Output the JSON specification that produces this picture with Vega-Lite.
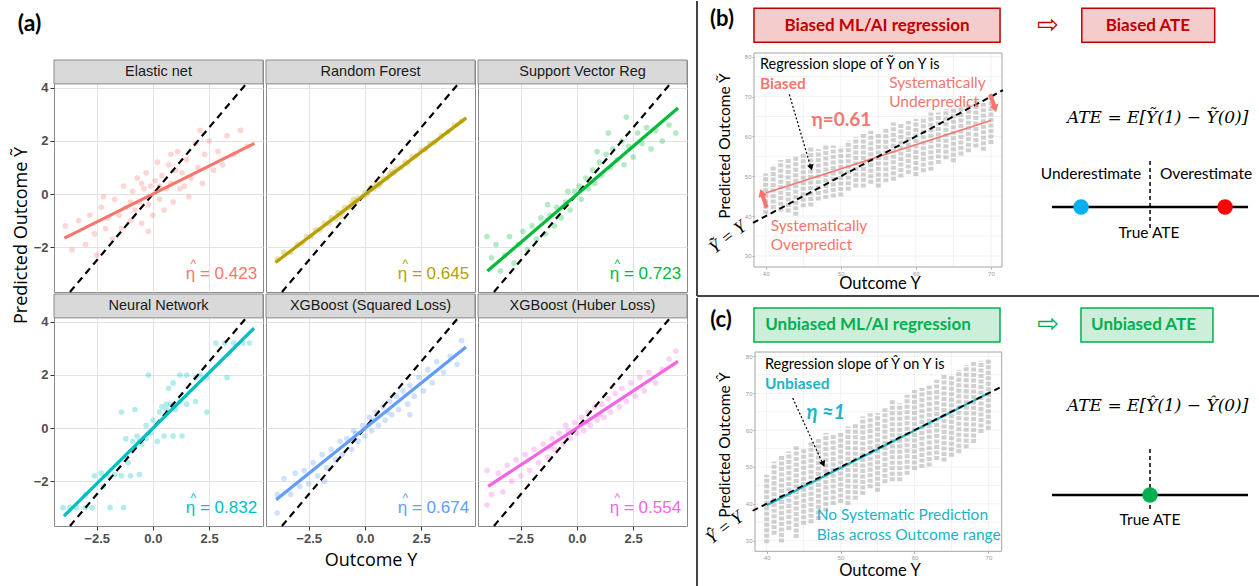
{
"$schema": "https://vega.github.io/schema/vega-lite/v6.json",
"background": "white",
"padding": {"left": 11, "top": 0, "right": 0, "bottom": 0},
"spacing": 8,
"config": {"view": {"stroke": null}, "text": {"font": "Lato", "baseline": "middle"}},
"datasets": {
"a": [
{"p":"EN","k":"lab","name":"Elastic net","lab":"η = 0.423","x1":-3.94,"y1":-1.66,"x2":4.52,"y2":1.91},
{"p":"RF","k":"lab","name":"Random Forest","lab":"η = 0.645","x1":-3.98,"y1":-2.58,"x2":4.51,"y2":2.87},
{"p":"SV","k":"lab","name":"Support Vector Reg","lab":"η = 0.723","x1":-3.98,"y1":-2.9,"x2":4.5,"y2":3.24},
{"p":"NN","k":"lab","name":"Neural Network","lab":"η = 0.832","x1":-3.96,"y1":-3.32,"x2":4.5,"y2":3.76},
{"p":"XS","k":"lab","name":"XGBoost (Squared Loss)","lab":"η = 0.674","x1":-3.95,"y1":-2.7,"x2":4.5,"y2":3.05},
{"p":"XH","k":"lab","name":"XGBoost (Huber Loss)","lab":"η = 0.554","x1":-3.95,"y1":-2.2,"x2":4.5,"y2":2.51},
{"p":"EN","x":-3.9,"y":-1.2},{"p":"EN","x":-3.6,"y":-2.1},{"p":"EN","x":-3.3,"y":-1.0},{"p":"EN","x":-3.0,"y":-1.9},{"p":"EN","x":-2.8,"y":-0.8},{"p":"EN","x":-2.6,"y":-1.5},{"p":"EN","x":-2.5,"y":-2.3},{"p":"EN","x":-2.3,"y":-0.5},{"p":"EN","x":-2.1,"y":-1.3},{"p":"EN","x":-2.0,"y":-0.9},{"p":"EN","x":-1.8,"y":-1.7},{"p":"EN","x":-1.7,"y":-0.2},{"p":"EN","x":-1.5,"y":-0.8},{"p":"EN","x":-1.4,"y":-1.3},{"p":"EN","x":-1.3,"y":0.3},{"p":"EN","x":-1.2,"y":-0.5},{"p":"EN","x":-1.0,"y":-1.0},{"p":"EN","x":-0.9,"y":0.1},{"p":"EN","x":-0.8,"y":-0.6},{"p":"EN","x":-0.7,"y":0.6},{"p":"EN","x":-0.6,"y":-0.3},{"p":"EN","x":-0.5,"y":-1.1},{"p":"EN","x":-0.4,"y":0.2},{"p":"EN","x":-0.3,"y":0.8},{"p":"EN","x":-0.2,"y":-0.4},{"p":"EN","x":-0.1,"y":0.3},{"p":"EN","x":0.0,"y":-0.8},{"p":"EN","x":0.1,"y":0.5},{"p":"EN","x":0.2,"y":1.2},{"p":"EN","x":0.3,"y":-0.2},{"p":"EN","x":0.4,"y":0.7},{"p":"EN","x":0.5,"y":-0.6},{"p":"EN","x":0.6,"y":0.2},{"p":"EN","x":0.7,"y":1.1},{"p":"EN","x":0.8,"y":0.4},{"p":"EN","x":0.9,"y":-0.3},{"p":"EN","x":1.0,"y":0.9},{"p":"EN","x":1.1,"y":1.6},{"p":"EN","x":1.2,"y":0.2},{"p":"EN","x":1.3,"y":0.8},{"p":"EN","x":1.5,"y":1.3},{"p":"EN","x":1.6,"y":-0.1},{"p":"EN","x":1.7,"y":0.6},{"p":"EN","x":1.9,"y":1.9},{"p":"EN","x":2.0,"y":1.0},{"p":"EN","x":2.2,"y":0.4},{"p":"EN","x":2.3,"y":1.5},{"p":"EN","x":2.5,"y":2.0},{"p":"EN","x":2.7,"y":0.9},{"p":"EN","x":2.9,"y":1.6},{"p":"EN","x":3.1,"y":1.1},{"p":"EN","x":3.3,"y":2.2},{"p":"EN","x":3.6,"y":1.5},{"p":"EN","x":3.9,"y":2.4},{"p":"EN","x":4.2,"y":1.8},{"p":"EN","x":-0.5,"y":0.4},{"p":"EN","x":0.3,"y":0.3},{"p":"EN","x":-1.0,"y":-0.3},{"p":"EN","x":0.8,"y":1.5},{"p":"EN","x":-0.2,"y":-1.4},{"p":"EN","x":1.4,"y":0.3},{"p":"EN","x":-2.2,"y":-0.1},{"p":"EN","x":2.1,"y":2.4},
{"p":"RF","x":-3.9,"y":-2.45},{"p":"RF","x":-3.6,"y":-2.2},{"p":"RF","x":-3.3,"y":-2.2},{"p":"RF","x":-3.0,"y":-1.9},{"p":"RF","x":-2.8,"y":-1.85},{"p":"RF","x":-2.6,"y":-1.6},{"p":"RF","x":-2.4,"y":-1.6},{"p":"RF","x":-2.2,"y":-1.35},{"p":"RF","x":-2.0,"y":-1.35},{"p":"RF","x":-1.8,"y":-1.1},{"p":"RF","x":-1.6,"y":-1.1},{"p":"RF","x":-1.5,"y":-0.9},{"p":"RF","x":-1.3,"y":-0.95},{"p":"RF","x":-1.2,"y":-0.7},{"p":"RF","x":-1.0,"y":-0.7},{"p":"RF","x":-0.9,"y":-0.5},{"p":"RF","x":-0.7,"y":-0.5},{"p":"RF","x":-0.6,"y":-0.35},{"p":"RF","x":-0.4,"y":-0.3},{"p":"RF","x":-0.3,"y":-0.15},{"p":"RF","x":-0.1,"y":-0.1},{"p":"RF","x":0.0,"y":0.05},{"p":"RF","x":0.1,"y":0.0},{"p":"RF","x":0.3,"y":0.25},{"p":"RF","x":0.4,"y":0.2},{"p":"RF","x":0.5,"y":0.4},{"p":"RF","x":0.7,"y":0.4},{"p":"RF","x":0.8,"y":0.6},{"p":"RF","x":1.0,"y":0.6},{"p":"RF","x":1.1,"y":0.75},{"p":"RF","x":1.3,"y":0.8},{"p":"RF","x":1.4,"y":0.95},{"p":"RF","x":1.6,"y":1.0},{"p":"RF","x":1.8,"y":1.2},{"p":"RF","x":1.9,"y":1.15},{"p":"RF","x":2.1,"y":1.4},{"p":"RF","x":2.3,"y":1.45},{"p":"RF","x":2.5,"y":1.65},{"p":"RF","x":2.7,"y":1.7},{"p":"RF","x":2.9,"y":1.9},{"p":"RF","x":3.1,"y":1.95},{"p":"RF","x":3.4,"y":2.2},{"p":"RF","x":3.7,"y":2.35},{"p":"RF","x":4.0,"y":2.6},{"p":"RF","x":4.3,"y":2.75},{"p":"RF","x":-0.5,"y":-0.2},{"p":"RF","x":0.2,"y":0.2},{"p":"RF","x":0.6,"y":0.3},{"p":"RF","x":-1.1,"y":-0.85},{"p":"RF","x":1.2,"y":0.85},
{"p":"SV","x":-4.0,"y":-1.6},{"p":"SV","x":-3.8,"y":-2.4},{"p":"SV","x":-3.6,"y":-1.9},{"p":"SV","x":-3.4,"y":-2.9},{"p":"SV","x":-3.2,"y":-2.3},{"p":"SV","x":-3.0,"y":-1.6},{"p":"SV","x":-2.8,"y":-2.6},{"p":"SV","x":-2.6,"y":-1.9},{"p":"SV","x":-2.4,"y":-1.4},{"p":"SV","x":-2.2,"y":-2.1},{"p":"SV","x":-2.0,"y":-1.2},{"p":"SV","x":-1.8,"y":-1.7},{"p":"SV","x":-1.6,"y":-0.9},{"p":"SV","x":-1.4,"y":-1.5},{"p":"SV","x":-1.2,"y":-0.8},{"p":"SV","x":-1.0,"y":-1.2},{"p":"SV","x":-0.9,"y":-0.5},{"p":"SV","x":-0.7,"y":-0.9},{"p":"SV","x":-0.5,"y":-0.3},{"p":"SV","x":-0.3,"y":-0.6},{"p":"SV","x":-0.1,"y":0.1},{"p":"SV","x":0.1,"y":0.3},{"p":"SV","x":0.2,"y":-0.2},{"p":"SV","x":0.4,"y":0.6},{"p":"SV","x":0.5,"y":0.2},{"p":"SV","x":0.7,"y":0.9},{"p":"SV","x":0.8,"y":0.4},{"p":"SV","x":1.0,"y":1.2},{"p":"SV","x":1.1,"y":0.7},{"p":"SV","x":1.3,"y":1.5},{"p":"SV","x":1.5,"y":1.0},{"p":"SV","x":1.6,"y":1.7},{"p":"SV","x":1.8,"y":1.3},{"p":"SV","x":2.0,"y":2.0},{"p":"SV","x":2.1,"y":1.1},{"p":"SV","x":2.3,"y":1.8},{"p":"SV","x":2.5,"y":1.4},{"p":"SV","x":2.7,"y":2.3},{"p":"SV","x":2.9,"y":1.9},{"p":"SV","x":3.1,"y":2.5},{"p":"SV","x":3.3,"y":1.7},{"p":"SV","x":3.5,"y":2.4},{"p":"SV","x":3.8,"y":2.0},{"p":"SV","x":4.1,"y":2.6},{"p":"SV","x":4.4,"y":2.3},{"p":"SV","x":2.2,"y":2.9},{"p":"SV","x":1.4,"y":2.3},{"p":"SV","x":0.9,"y":1.6},{"p":"SV","x":-0.4,"y":0.1},{"p":"SV","x":-1.3,"y":-0.4},
{"p":"NN","x":-4.0,"y":-3.0},{"p":"NN","x":-3.7,"y":-3.0},{"p":"NN","x":-3.4,"y":-3.0},{"p":"NN","x":-3.0,"y":-3.0},{"p":"NN","x":-2.7,"y":-3.0},{"p":"NN","x":-1.9,"y":-3.0},{"p":"NN","x":-1.3,"y":-3.0},{"p":"NN","x":-3.0,"y":-2.5},{"p":"NN","x":-2.6,"y":-1.8},{"p":"NN","x":-2.3,"y":-1.7},{"p":"NN","x":-2.0,"y":-1.8},{"p":"NN","x":-1.7,"y":-1.75},{"p":"NN","x":-1.4,"y":-1.8},{"p":"NN","x":-1.0,"y":-1.8},{"p":"NN","x":-0.6,"y":-1.75},{"p":"NN","x":-2.2,"y":-2.2},{"p":"NN","x":-1.1,"y":-1.3},{"p":"NN","x":-1.2,"y":-0.4},{"p":"NN","x":-0.9,"y":-0.5},{"p":"NN","x":-0.7,"y":-0.3},{"p":"NN","x":-0.5,"y":-0.6},{"p":"NN","x":-0.3,"y":-0.4},{"p":"NN","x":-0.1,"y":-0.2},{"p":"NN","x":0.2,"y":-0.5},{"p":"NN","x":0.5,"y":-0.3},{"p":"NN","x":0.9,"y":-0.3},{"p":"NN","x":1.3,"y":-0.3},{"p":"NN","x":-0.3,"y":0.1},{"p":"NN","x":0.0,"y":0.3},{"p":"NN","x":0.3,"y":0.6},{"p":"NN","x":0.4,"y":0.8},{"p":"NN","x":0.6,"y":0.7},{"p":"NN","x":0.8,"y":0.9},{"p":"NN","x":1.0,"y":0.7},{"p":"NN","x":1.2,"y":1.0},{"p":"NN","x":1.5,"y":0.9},{"p":"NN","x":-0.8,"y":0.7},{"p":"NN","x":-1.4,"y":0.6},{"p":"NN","x":0.9,"y":1.7},{"p":"NN","x":1.2,"y":2.0},{"p":"NN","x":1.5,"y":2.0},{"p":"NN","x":1.9,"y":1.9},{"p":"NN","x":2.1,"y":2.0},{"p":"NN","x":2.4,"y":1.9},{"p":"NN","x":3.3,"y":1.9},{"p":"NN","x":0.7,"y":1.5},{"p":"NN","x":2.8,"y":3.2},{"p":"NN","x":3.2,"y":3.2},{"p":"NN","x":3.6,"y":3.2},{"p":"NN","x":4.0,"y":3.2},{"p":"NN","x":4.3,"y":3.2},{"p":"NN","x":3.4,"y":2.8},{"p":"NN","x":1.9,"y":1.0},{"p":"NN","x":2.4,"y":0.6},{"p":"NN","x":-0.2,"y":2.0},{"p":"NN","x":-0.6,"y":-0.5},{"p":"NN","x":0.6,"y":0.9},
{"p":"XS","x":-3.9,"y":-2.5},{"p":"XS","x":-3.9,"y":-3.2},{"p":"XS","x":-3.6,"y":-1.9},{"p":"XS","x":-3.3,"y":-2.5},{"p":"XS","x":-3.1,"y":-1.7},{"p":"XS","x":-2.9,"y":-2.2},{"p":"XS","x":-2.7,"y":-1.6},{"p":"XS","x":-2.5,"y":-2.1},{"p":"XS","x":-2.3,"y":-1.3},{"p":"XS","x":-2.1,"y":-1.8},{"p":"XS","x":-1.9,"y":-1.0},{"p":"XS","x":-1.7,"y":-1.5},{"p":"XS","x":-1.5,"y":-0.8},{"p":"XS","x":-1.3,"y":-1.2},{"p":"XS","x":-1.1,"y":-0.5},{"p":"XS","x":-1.0,"y":-1.0},{"p":"XS","x":-0.8,"y":-0.4},{"p":"XS","x":-0.6,"y":-0.8},{"p":"XS","x":-0.5,"y":-0.1},{"p":"XS","x":-0.3,"y":-0.5},{"p":"XS","x":-0.1,"y":0.1},{"p":"XS","x":0.0,"y":-0.3},{"p":"XS","x":0.2,"y":0.4},{"p":"XS","x":0.3,"y":-0.1},{"p":"XS","x":0.5,"y":0.6},{"p":"XS","x":0.6,"y":0.1},{"p":"XS","x":0.8,"y":0.8},{"p":"XS","x":0.9,"y":0.3},{"p":"XS","x":1.1,"y":1.0},{"p":"XS","x":1.2,"y":0.5},{"p":"XS","x":1.4,"y":1.2},{"p":"XS","x":1.5,"y":0.7},{"p":"XS","x":1.7,"y":1.4},{"p":"XS","x":1.9,"y":0.9},{"p":"XS","x":2.0,"y":1.6},{"p":"XS","x":2.2,"y":1.2},{"p":"XS","x":2.4,"y":1.9},{"p":"XS","x":2.6,"y":1.4},{"p":"XS","x":2.8,"y":2.2},{"p":"XS","x":3.0,"y":1.7},{"p":"XS","x":3.2,"y":2.5},{"p":"XS","x":3.5,"y":2.1},{"p":"XS","x":3.8,"y":2.7},{"p":"XS","x":4.1,"y":2.4},{"p":"XS","x":4.3,"y":3.3},{"p":"XS","x":2.0,"y":0.5},{"p":"XS","x":-1.8,"y":-2.0},{"p":"XS","x":-0.4,"y":-0.2},{"p":"XS","x":0.4,"y":0.3},{"p":"XS","x":1.0,"y":0.6},
{"p":"XH","x":-4.0,"y":-1.6},{"p":"XH","x":-3.8,"y":-2.5},{"p":"XH","x":-3.5,"y":-1.7},{"p":"XH","x":-3.3,"y":-2.4},{"p":"XH","x":-3.1,"y":-1.4},{"p":"XH","x":-2.9,"y":-2.0},{"p":"XH","x":-2.7,"y":-1.2},{"p":"XH","x":-2.5,"y":-1.8},{"p":"XH","x":-2.3,"y":-1.0},{"p":"XH","x":-2.1,"y":-1.6},{"p":"XH","x":-1.9,"y":-0.8},{"p":"XH","x":-1.7,"y":-1.3},{"p":"XH","x":-1.5,"y":-0.6},{"p":"XH","x":-1.3,"y":-1.1},{"p":"XH","x":-1.1,"y":-0.4},{"p":"XH","x":-1.0,"y":-0.8},{"p":"XH","x":-0.8,"y":-0.2},{"p":"XH","x":-0.6,"y":-0.6},{"p":"XH","x":-0.5,"y":0.1},{"p":"XH","x":-0.3,"y":-0.4},{"p":"XH","x":-0.1,"y":0.2},{"p":"XH","x":0.0,"y":-0.2},{"p":"XH","x":0.2,"y":0.4},{"p":"XH","x":0.3,"y":-0.1},{"p":"XH","x":0.5,"y":0.6},{"p":"XH","x":0.6,"y":0.1},{"p":"XH","x":0.8,"y":0.8},{"p":"XH","x":0.9,"y":0.3},{"p":"XH","x":1.1,"y":0.9},{"p":"XH","x":1.2,"y":0.4},{"p":"XH","x":1.4,"y":1.1},{"p":"XH","x":1.5,"y":0.6},{"p":"XH","x":1.7,"y":1.3},{"p":"XH","x":1.9,"y":0.8},{"p":"XH","x":2.0,"y":1.5},{"p":"XH","x":2.2,"y":1.0},{"p":"XH","x":2.4,"y":1.7},{"p":"XH","x":2.6,"y":1.2},{"p":"XH","x":2.8,"y":1.9},{"p":"XH","x":3.0,"y":1.4},{"p":"XH","x":3.2,"y":2.1},{"p":"XH","x":3.5,"y":1.7},{"p":"XH","x":3.8,"y":2.2},{"p":"XH","x":4.1,"y":2.6},{"p":"XH","x":4.4,"y":2.9},{"p":"XH","x":-4.0,"y":-2.9},{"p":"XH","x":-0.4,"y":-0.1},{"p":"XH","x":0.4,"y":0.2},{"p":"XH","x":-1.2,"y":-0.7},{"p":"XH","x":1.0,"y":0.5}
],
"colsB": [{"x":40,"lo":40.5,"hi":50.7},{"x":41,"lo":41.8,"hi":52.9},{"x":42,"lo":41.2,"hi":54.1},{"x":43,"lo":40.9,"hi":54.7},{"x":44,"lo":40.1,"hi":55.2},{"x":45,"lo":42.2,"hi":55.6},{"x":46,"lo":42.4,"hi":57.4},{"x":47,"lo":43.9,"hi":56.8},{"x":48,"lo":44.3,"hi":58.1},{"x":49,"lo":44.7,"hi":57.7},{"x":50,"lo":44.9,"hi":57.4},{"x":51,"lo":46.4,"hi":58.9},{"x":52,"lo":47.2,"hi":59.8},{"x":53,"lo":47.2,"hi":60.6},{"x":54,"lo":48.1,"hi":61.4},{"x":55,"lo":47.2,"hi":61.0},{"x":56,"lo":48.5,"hi":62.3},{"x":57,"lo":48.9,"hi":63.5},{"x":58,"lo":49.7,"hi":63.1},{"x":59,"lo":50.6,"hi":63.9},{"x":60,"lo":50.1,"hi":64.4},{"x":61,"lo":51.0,"hi":64.9},{"x":62,"lo":51.4,"hi":66.0},{"x":63,"lo":53.1,"hi":66.0},{"x":64,"lo":54.3,"hi":66.9},{"x":65,"lo":53.5,"hi":67.3},{"x":66,"lo":55.2,"hi":67.3},{"x":67,"lo":56.0,"hi":68.5},{"x":68,"lo":57.2,"hi":69.0},{"x":69,"lo":56.4,"hi":69.0},{"x":70,"lo":58.1,"hi":70.2}],
"colsC": [{"x":40,"lo":29.3,"hi":47.9},{"x":41,"lo":31.6,"hi":51.5},{"x":42,"lo":29.5,"hi":53.3},{"x":43,"lo":32.9,"hi":54.2},{"x":44,"lo":30.7,"hi":55.6},{"x":45,"lo":34.3,"hi":55.1},{"x":46,"lo":34.7,"hi":56.9},{"x":47,"lo":35.6,"hi":57.8},{"x":48,"lo":37.9,"hi":59.2},{"x":49,"lo":39.7,"hi":58.7},{"x":50,"lo":40.2,"hi":59.6},{"x":51,"lo":39.7,"hi":61.0},{"x":52,"lo":41.1,"hi":61.9},{"x":53,"lo":42.4,"hi":63.7},{"x":54,"lo":44.2,"hi":64.6},{"x":55,"lo":43.3,"hi":64.6},{"x":56,"lo":45.6,"hi":65.9},{"x":57,"lo":46.1,"hi":68.2},{"x":58,"lo":46.1,"hi":67.3},{"x":59,"lo":47.9,"hi":69.6},{"x":60,"lo":49.2,"hi":70.9},{"x":61,"lo":49.7,"hi":71.4},{"x":62,"lo":50.1,"hi":72.3},{"x":63,"lo":51.9,"hi":73.7},{"x":64,"lo":51.5,"hi":75.0},{"x":65,"lo":52.8,"hi":74.6},{"x":66,"lo":53.7,"hi":76.4},{"x":67,"lo":55.1,"hi":77.7},{"x":68,"lo":56.5,"hi":78.5},{"x":69,"lo":59.2,"hi":78.8},{"x":70,"lo":60.1,"hi":79.1}]
},
"hconcat": [
{
"bounds": "flush",
"align": "each",
"columns": 3,
"spacing": {"row": 2, "column": 3},
"concat": [
{"width": 209, "height": 57, "data": {"values": [{}]},
"mark": {"type": "text", "text": "(a)", "fontSize": 23, "fontWeight": "bold", "color": "black"},
"encoding": {"x": {"datum": -5.49, "scale": {"domain": [-4.4, 4.9], "nice": false, "zero": false}, "axis": null}, "y": {"datum": 0.605, "scale": {"domain": [0, 1], "nice": false, "zero": false}, "axis": null}}},
{"width": 209, "height": 57, "data": {"values": [{}]}, "mark": {"type": "text", "text": ""}, "encoding": {}},
{"width": 209, "height": 57, "data": {"values": [{}]}, "mark": {"type": "text", "text": ""}, "encoding": {}},
{"width": 209, "height": 232, "view": {"stroke": "#8a8a8a"}, "data": {"name": "a"},
"layer": [
{"transform": [{"filter": "datum.p === 'EN' && !datum.k"}], "mark": {"type": "circle", "size": 32, "opacity": 0.3, "color": "#F8766D"},
"encoding": {"x": {"field": "x", "type": "quantitative", "scale": {"domain": [-4.4, 4.9], "nice": false, "zero": false}, "axis": {"title": null, "values": [-2.5, 0, 2.5], "labels": false, "ticks": false, "domain": false, "gridColor": "#e3e3e3"}},
"y": {"field": "y", "type": "quantitative", "scale": {"domain": [-3.69, 5.05], "nice": false, "zero": false}, "axis": {"title": "Predicted Outcome Ỹ", "titleY": 175, "titleFont": "Open Sans", "titleFontSize": 18, "titleFontWeight": "normal", "titleColor": "black", "titlePadding": 3, "values": [-2, 0, 2, 4], "format": "d", "domain": false, "tickSize": 4, "tickColor": "#333333", "gridColor": "#e3e3e3", "labelFont": "Liberation Sans", "labelFontSize": 13, "labelFontWeight": "bold", "labelColor": "#4d4d4d", "labelPadding": 2}}}},
{"transform": [{"filter": "datum.p === 'EN' && datum.k"}], "mark": {"type": "rect", "fill": "#d9d9d9", "stroke": "#8a8a8a", "strokeWidth": 1}, "encoding": {"x": {"datum": -4.4}, "x2": {"datum": 4.9}, "y": {"datum": 4.15}, "y2": {"datum": 5.05}}},
{"transform": [{"filter": "datum.p === 'EN' && datum.k"}], "mark": {"type": "text", "font": "Liberation Sans", "fontSize": 14.5, "color": "#1a1a1a"}, "encoding": {"x": {"datum": 0.25}, "y": {"datum": 4.6}, "text": {"field": "name"}}},
{"transform": [{"filter": "datum.p === 'EN' && datum.k"}], "mark": {"type": "rule", "color": "black", "strokeWidth": 2.2, "strokeDash": [7, 5]}, "encoding": {"x": {"datum": -3.69}, "y": {"datum": -3.69}, "x2": {"datum": 4.15}, "y2": {"datum": 4.15}}},
{"transform": [{"filter": "datum.p === 'EN' && datum.k"}], "mark": {"type": "rule", "strokeWidth": 3.2, "color": "#F8766D"}, "encoding": {"x": {"field": "x1", "type": "quantitative"}, "y": {"field": "y1", "type": "quantitative"}, "x2": {"field": "x2"}, "y2": {"field": "y2"}}},
{"transform": [{"filter": "datum.p === 'EN' && datum.k"}], "mark": {"type": "text", "font": "Liberation Sans", "fontSize": 17, "align": "right", "color": "#F8766D"}, "encoding": {"x": {"datum": 4.64}, "y": {"datum": -3.0}, "text": {"field": "lab"}}},
{"transform": [{"filter": "datum.p === 'EN' && datum.k"}], "mark": {"type": "text", "text": "^", "font": "Liberation Sans", "fontSize": 12, "color": "#F8766D"}, "encoding": {"x": {"datum": 1.8}, "y": {"datum": -2.62}}}
]},
{"width": 209, "height": 232, "view": {"stroke": "#8a8a8a"}, "data": {"name": "a"},
"layer": [
{"transform": [{"filter": "datum.p === 'RF' && !datum.k"}], "mark": {"type": "circle", "size": 32, "opacity": 0.3, "color": "#B79F00"},
"encoding": {"x": {"field": "x", "type": "quantitative", "scale": {"domain": [-4.4, 4.9], "nice": false, "zero": false}, "axis": {"title": null, "values": [-2.5, 0, 2.5], "labels": false, "ticks": false, "domain": false, "gridColor": "#e3e3e3"}},
"y": {"field": "y", "type": "quantitative", "scale": {"domain": [-3.69, 5.05], "nice": false, "zero": false}, "axis": {"title": null, "values": [-2, 0, 2, 4], "labels": false, "ticks": false, "domain": false, "gridColor": "#e3e3e3"}}}},
{"transform": [{"filter": "datum.p === 'RF' && datum.k"}], "mark": {"type": "rect", "fill": "#d9d9d9", "stroke": "#8a8a8a", "strokeWidth": 1}, "encoding": {"x": {"datum": -4.4}, "x2": {"datum": 4.9}, "y": {"datum": 4.15}, "y2": {"datum": 5.05}}},
{"transform": [{"filter": "datum.p === 'RF' && datum.k"}], "mark": {"type": "text", "font": "Liberation Sans", "fontSize": 14.5, "color": "#1a1a1a"}, "encoding": {"x": {"datum": 0.25}, "y": {"datum": 4.6}, "text": {"field": "name"}}},
{"transform": [{"filter": "datum.p === 'RF' && datum.k"}], "mark": {"type": "rule", "color": "black", "strokeWidth": 2.2, "strokeDash": [7, 5]}, "encoding": {"x": {"datum": -3.69}, "y": {"datum": -3.69}, "x2": {"datum": 4.15}, "y2": {"datum": 4.15}}},
{"transform": [{"filter": "datum.p === 'RF' && datum.k"}], "mark": {"type": "rule", "strokeWidth": 3.2, "color": "#B79F00"}, "encoding": {"x": {"field": "x1", "type": "quantitative"}, "y": {"field": "y1", "type": "quantitative"}, "x2": {"field": "x2"}, "y2": {"field": "y2"}}},
{"transform": [{"filter": "datum.p === 'RF' && datum.k"}], "mark": {"type": "text", "font": "Liberation Sans", "fontSize": 17, "align": "right", "color": "#B79F00"}, "encoding": {"x": {"datum": 4.64}, "y": {"datum": -3.0}, "text": {"field": "lab"}}},
{"transform": [{"filter": "datum.p === 'RF' && datum.k"}], "mark": {"type": "text", "text": "^", "font": "Liberation Sans", "fontSize": 12, "color": "#B79F00"}, "encoding": {"x": {"datum": 1.8}, "y": {"datum": -2.62}}}
]},
{"width": 209, "height": 232, "view": {"stroke": "#8a8a8a"}, "data": {"name": "a"},
"layer": [
{"transform": [{"filter": "datum.p === 'SV' && !datum.k"}], "mark": {"type": "circle", "size": 32, "opacity": 0.3, "color": "#00BA38"},
"encoding": {"x": {"field": "x", "type": "quantitative", "scale": {"domain": [-4.4, 4.9], "nice": false, "zero": false}, "axis": {"title": null, "values": [-2.5, 0, 2.5], "labels": false, "ticks": false, "domain": false, "gridColor": "#e3e3e3"}},
"y": {"field": "y", "type": "quantitative", "scale": {"domain": [-3.69, 5.05], "nice": false, "zero": false}, "axis": {"title": null, "values": [-2, 0, 2, 4], "labels": false, "ticks": false, "domain": false, "gridColor": "#e3e3e3"}}}},
{"transform": [{"filter": "datum.p === 'SV' && datum.k"}], "mark": {"type": "rect", "fill": "#d9d9d9", "stroke": "#8a8a8a", "strokeWidth": 1}, "encoding": {"x": {"datum": -4.4}, "x2": {"datum": 4.9}, "y": {"datum": 4.15}, "y2": {"datum": 5.05}}},
{"transform": [{"filter": "datum.p === 'SV' && datum.k"}], "mark": {"type": "text", "font": "Liberation Sans", "fontSize": 14.5, "color": "#1a1a1a"}, "encoding": {"x": {"datum": 0.25}, "y": {"datum": 4.6}, "text": {"field": "name"}}},
{"transform": [{"filter": "datum.p === 'SV' && datum.k"}], "mark": {"type": "rule", "color": "black", "strokeWidth": 2.2, "strokeDash": [7, 5]}, "encoding": {"x": {"datum": -3.69}, "y": {"datum": -3.69}, "x2": {"datum": 4.15}, "y2": {"datum": 4.15}}},
{"transform": [{"filter": "datum.p === 'SV' && datum.k"}], "mark": {"type": "rule", "strokeWidth": 3.2, "color": "#00BA38"}, "encoding": {"x": {"field": "x1", "type": "quantitative"}, "y": {"field": "y1", "type": "quantitative"}, "x2": {"field": "x2"}, "y2": {"field": "y2"}}},
{"transform": [{"filter": "datum.p === 'SV' && datum.k"}], "mark": {"type": "text", "font": "Liberation Sans", "fontSize": 17, "align": "right", "color": "#00BA38"}, "encoding": {"x": {"datum": 4.64}, "y": {"datum": -3.0}, "text": {"field": "lab"}}},
{"transform": [{"filter": "datum.p === 'SV' && datum.k"}], "mark": {"type": "text", "text": "^", "font": "Liberation Sans", "fontSize": 12, "color": "#00BA38"}, "encoding": {"x": {"datum": 1.8}, "y": {"datum": -2.62}}}
]},
{"width": 209, "height": 232, "view": {"stroke": "#8a8a8a"}, "data": {"name": "a"},
"layer": [
{"transform": [{"filter": "datum.p === 'NN' && !datum.k"}], "mark": {"type": "circle", "size": 32, "opacity": 0.3, "color": "#00BFC4"},
"encoding": {"x": {"field": "x", "type": "quantitative", "scale": {"domain": [-4.4, 4.9], "nice": false, "zero": false}, "axis": {"title": null, "values": [-2.5, 0, 2.5], "format": ".1f", "domain": false, "tickSize": 4, "tickColor": "#333333", "gridColor": "#e3e3e3", "labelFont": "Liberation Sans", "labelFontSize": 13, "labelFontWeight": "bold", "labelColor": "#4d4d4d", "labelPadding": 2}},
"y": {"field": "y", "type": "quantitative", "scale": {"domain": [-3.69, 5.05], "nice": false, "zero": false}, "axis": {"title": null, "values": [-2, 0, 2, 4], "format": "d", "domain": false, "tickSize": 4, "tickColor": "#333333", "gridColor": "#e3e3e3", "labelFont": "Liberation Sans", "labelFontSize": 13, "labelFontWeight": "bold", "labelColor": "#4d4d4d", "labelPadding": 2}}}},
{"transform": [{"filter": "datum.p === 'NN' && datum.k"}], "mark": {"type": "rect", "fill": "#d9d9d9", "stroke": "#8a8a8a", "strokeWidth": 1}, "encoding": {"x": {"datum": -4.4}, "x2": {"datum": 4.9}, "y": {"datum": 4.15}, "y2": {"datum": 5.05}}},
{"transform": [{"filter": "datum.p === 'NN' && datum.k"}], "mark": {"type": "text", "font": "Liberation Sans", "fontSize": 14.5, "color": "#1a1a1a"}, "encoding": {"x": {"datum": 0.25}, "y": {"datum": 4.6}, "text": {"field": "name"}}},
{"transform": [{"filter": "datum.p === 'NN' && datum.k"}], "mark": {"type": "rule", "color": "black", "strokeWidth": 2.2, "strokeDash": [7, 5]}, "encoding": {"x": {"datum": -3.69}, "y": {"datum": -3.69}, "x2": {"datum": 4.15}, "y2": {"datum": 4.15}}},
{"transform": [{"filter": "datum.p === 'NN' && datum.k"}], "mark": {"type": "rule", "strokeWidth": 3.2, "color": "#00BFC4"}, "encoding": {"x": {"field": "x1", "type": "quantitative"}, "y": {"field": "y1", "type": "quantitative"}, "x2": {"field": "x2"}, "y2": {"field": "y2"}}},
{"transform": [{"filter": "datum.p === 'NN' && datum.k"}], "mark": {"type": "text", "font": "Liberation Sans", "fontSize": 17, "align": "right", "color": "#00BFC4"}, "encoding": {"x": {"datum": 4.64}, "y": {"datum": -3.0}, "text": {"field": "lab"}}},
{"transform": [{"filter": "datum.p === 'NN' && datum.k"}], "mark": {"type": "text", "text": "^", "font": "Liberation Sans", "fontSize": 12, "color": "#00BFC4"}, "encoding": {"x": {"datum": 1.8}, "y": {"datum": -2.62}}}
]},
{"width": 209, "height": 232, "view": {"stroke": "#8a8a8a"}, "data": {"name": "a"},
"layer": [
{"transform": [{"filter": "datum.p === 'XS' && !datum.k"}], "mark": {"type": "circle", "size": 32, "opacity": 0.3, "color": "#619CFF"},
"encoding": {"x": {"field": "x", "type": "quantitative", "scale": {"domain": [-4.4, 4.9], "nice": false, "zero": false}, "axis": {"title": "Outcome Y", "titleFont": "Open Sans", "titleFontSize": 18, "titleFontWeight": "normal", "titleColor": "black", "titlePadding": 6, "values": [-2.5, 0, 2.5], "format": ".1f", "domain": false, "tickSize": 4, "tickColor": "#333333", "gridColor": "#e3e3e3", "labelFont": "Liberation Sans", "labelFontSize": 13, "labelFontWeight": "bold", "labelColor": "#4d4d4d", "labelPadding": 2}},
"y": {"field": "y", "type": "quantitative", "scale": {"domain": [-3.69, 5.05], "nice": false, "zero": false}, "axis": {"title": null, "values": [-2, 0, 2, 4], "labels": false, "ticks": false, "domain": false, "gridColor": "#e3e3e3"}}}},
{"transform": [{"filter": "datum.p === 'XS' && datum.k"}], "mark": {"type": "rect", "fill": "#d9d9d9", "stroke": "#8a8a8a", "strokeWidth": 1}, "encoding": {"x": {"datum": -4.4}, "x2": {"datum": 4.9}, "y": {"datum": 4.15}, "y2": {"datum": 5.05}}},
{"transform": [{"filter": "datum.p === 'XS' && datum.k"}], "mark": {"type": "text", "font": "Liberation Sans", "fontSize": 14.5, "color": "#1a1a1a"}, "encoding": {"x": {"datum": 0.25}, "y": {"datum": 4.6}, "text": {"field": "name"}}},
{"transform": [{"filter": "datum.p === 'XS' && datum.k"}], "mark": {"type": "rule", "color": "black", "strokeWidth": 2.2, "strokeDash": [7, 5]}, "encoding": {"x": {"datum": -3.69}, "y": {"datum": -3.69}, "x2": {"datum": 4.15}, "y2": {"datum": 4.15}}},
{"transform": [{"filter": "datum.p === 'XS' && datum.k"}], "mark": {"type": "rule", "strokeWidth": 3.2, "color": "#619CFF"}, "encoding": {"x": {"field": "x1", "type": "quantitative"}, "y": {"field": "y1", "type": "quantitative"}, "x2": {"field": "x2"}, "y2": {"field": "y2"}}},
{"transform": [{"filter": "datum.p === 'XS' && datum.k"}], "mark": {"type": "text", "font": "Liberation Sans", "fontSize": 17, "align": "right", "color": "#619CFF"}, "encoding": {"x": {"datum": 4.64}, "y": {"datum": -3.0}, "text": {"field": "lab"}}},
{"transform": [{"filter": "datum.p === 'XS' && datum.k"}], "mark": {"type": "text", "text": "^", "font": "Liberation Sans", "fontSize": 12, "color": "#619CFF"}, "encoding": {"x": {"datum": 1.8}, "y": {"datum": -2.62}}}
]},
{"width": 209, "height": 232, "view": {"stroke": "#8a8a8a"}, "data": {"name": "a"},
"layer": [
{"transform": [{"filter": "datum.p === 'XH' && !datum.k"}], "mark": {"type": "circle", "size": 32, "opacity": 0.3, "color": "#F564E3"},
"encoding": {"x": {"field": "x", "type": "quantitative", "scale": {"domain": [-4.4, 4.9], "nice": false, "zero": false}, "axis": {"title": null, "values": [-2.5, 0, 2.5], "format": ".1f", "domain": false, "tickSize": 4, "tickColor": "#333333", "gridColor": "#e3e3e3", "labelFont": "Liberation Sans", "labelFontSize": 13, "labelFontWeight": "bold", "labelColor": "#4d4d4d", "labelPadding": 2}},
"y": {"field": "y", "type": "quantitative", "scale": {"domain": [-3.69, 5.05], "nice": false, "zero": false}, "axis": {"title": null, "values": [-2, 0, 2, 4], "labels": false, "ticks": false, "domain": false, "gridColor": "#e3e3e3"}}}},
{"transform": [{"filter": "datum.p === 'XH' && datum.k"}], "mark": {"type": "rect", "fill": "#d9d9d9", "stroke": "#8a8a8a", "strokeWidth": 1}, "encoding": {"x": {"datum": -4.4}, "x2": {"datum": 4.9}, "y": {"datum": 4.15}, "y2": {"datum": 5.05}}},
{"transform": [{"filter": "datum.p === 'XH' && datum.k"}], "mark": {"type": "text", "font": "Liberation Sans", "fontSize": 14.5, "color": "#1a1a1a"}, "encoding": {"x": {"datum": 0.25}, "y": {"datum": 4.6}, "text": {"field": "name"}}},
{"transform": [{"filter": "datum.p === 'XH' && datum.k"}], "mark": {"type": "rule", "color": "black", "strokeWidth": 2.2, "strokeDash": [7, 5]}, "encoding": {"x": {"datum": -3.69}, "y": {"datum": -3.69}, "x2": {"datum": 4.15}, "y2": {"datum": 4.15}}},
{"transform": [{"filter": "datum.p === 'XH' && datum.k"}], "mark": {"type": "rule", "strokeWidth": 3.2, "color": "#F564E3"}, "encoding": {"x": {"field": "x1", "type": "quantitative"}, "y": {"field": "y1", "type": "quantitative"}, "x2": {"field": "x2"}, "y2": {"field": "y2"}}},
{"transform": [{"filter": "datum.p === 'XH' && datum.k"}], "mark": {"type": "text", "font": "Liberation Sans", "fontSize": 17, "align": "right", "color": "#F564E3"}, "encoding": {"x": {"datum": 4.64}, "y": {"datum": -3.0}, "text": {"field": "lab"}}},
{"transform": [{"filter": "datum.p === 'XH' && datum.k"}], "mark": {"type": "text", "text": "^", "font": "Liberation Sans", "fontSize": 12, "color": "#F564E3"}, "encoding": {"x": {"datum": 1.8}, "y": {"datum": -2.62}}}
]}
]
},
{
"spacing": 0,
"vconcat": [
{
"width": 562, "height": 295,
"view": {"stroke": null},
"data": {"values": [{}]},
"layer": [
{"data": {"values": [{"v": 40}, {"v": 45}, {"v": 50}, {"v": 55}, {"v": 60}, {"v": 65}, {"v": 70}]},
"mark": {"type": "rule", "color": "#efefef", "strokeWidth": 0.8},
"encoding": {
"x": {"field": "v", "type": "quantitative", "scale": {"domain": [30.85, 105.7], "nice": false, "zero": false}, "axis": {"title": null, "values": [40, 50, 60, 70], "orient": "bottom", "offset": -29, "domain": false, "grid": false, "tickSize": 2, "tickColor": "#aaa", "labelFontSize": 6, "labelColor": "#999", "labelPadding": 1}},
"y": {"datum": 27.24, "scale": {"domain": [19.96, 93.98], "nice": false, "zero": false}, "axis": {"title": null, "values": [30, 40, 50, 60, 70, 80], "orient": "left", "offset": -57, "domain": false, "grid": false, "tickSize": 2, "tickColor": "#aaa", "labelFontSize": 6, "labelColor": "#999", "labelPadding": 1}},
"y2": {"datum": 80.93}}},
{"data": {"values": [{"v": 30}, {"v": 35}, {"v": 40}, {"v": 45}, {"v": 50}, {"v": 55}, {"v": 60}, {"v": 65}, {"v": 70}, {"v": 75}, {"v": 80}]},
"mark": {"type": "rule", "color": "#efefef", "strokeWidth": 0.8},
"encoding": {"y": {"field": "v", "type": "quantitative"}, "x": {"datum": 38.44}, "x2": {"datum": 71.47}}},
{"data": {"name": "colsB"},
"mark": {"type": "rule", "color": "#b0b0b0", "strokeWidth": 5, "opacity": 0.6, "strokeDash": [4, 1.5]},
"encoding": {"x": {"field": "x", "type": "quantitative"}, "y": {"field": "lo", "type": "quantitative"}, "y2": {"field": "hi"}}},
{"mark": {"type": "rect", "fill": "white", "fillOpacity": 0, "stroke": "#a6a6a6", "strokeWidth": 1},
"encoding": {"x": {"datum": 38.44}, "x2": {"datum": 71.47}, "y": {"datum": 27.24}, "y2": {"datum": 80.93}}},
{"mark": {"type": "rule", "color": "#f4766e", "strokeWidth": 1.8},
"encoding": {"x": {"datum": 40}, "y": {"datum": 45.8}, "x2": {"datum": 70}, "y2": {"datum": 64.0}}},
{"mark": {"type": "rule", "color": "black", "strokeWidth": 2, "strokeDash": [6, 4]},
"encoding": {"x": {"datum": 38.3}, "y": {"datum": 38.3}, "x2": {"datum": 71.6}, "y2": {"datum": 71.6}}},
{"mark": {"type": "rule", "color": "black", "strokeWidth": 1.2, "strokeDash": [2, 2]},
"encoding": {"x": {"datum": 43.15}, "y": {"datum": 70.55}, "x2": {"datum": 45.95}, "y2": {"datum": 52.6}}},
{"mark": {"type": "point", "shape": "triangle-down", "filled": true, "size": 45, "angle": 344, "color": "black", "opacity": 1},
"encoding": {"x": {"datum": 46.05}, "y": {"datum": 52.2}}},
{"mark": {"type": "rule", "color": "#f4766e", "strokeWidth": 4},
"encoding": {"x": {"datum": 40.13}, "y": {"datum": 42.12}, "x2": {"datum": 39.55}, "y2": {"datum": 45.3}}},
{"mark": {"type": "point", "shape": "triangle-up", "filled": true, "size": 80, "angle": 342, "color": "#f4766e", "opacity": 1},
"encoding": {"x": {"datum": 39.45}, "y": {"datum": 45.9}}},
{"mark": {"type": "rule", "color": "#f4766e", "strokeWidth": 4},
"encoding": {"x": {"datum": 69.88}, "y": {"datum": 70.57}, "x2": {"datum": 70.45}, "y2": {"datum": 67.6}}},
{"mark": {"type": "point", "shape": "triangle-down", "filled": true, "size": 80, "angle": 345, "color": "#f4766e", "opacity": 1},
"encoding": {"x": {"datum": 70.55}, "y": {"datum": 67.0}}},
{"mark": {"type": "text", "text": "Regression slope of Ỹ on Y is", "fontSize": 14.5, "align": "left", "color": "black"},
"encoding": {"x": {"datum": 39.24}, "y": {"datum": 77.9}}},
{"mark": {"type": "text", "text": "Biased", "fontSize": 15.5, "fontWeight": "bold", "align": "left", "color": "#f4766e"},
"encoding": {"x": {"datum": 39.24}, "y": {"datum": 73.07}}},
{"mark": {"type": "text", "text": "Systematically", "fontSize": 15.5, "align": "left", "color": "#f4766e"},
"encoding": {"x": {"datum": 56.44}, "y": {"datum": 73.47}}},
{"mark": {"type": "text", "text": "Underpredict", "fontSize": 15.5, "align": "left", "color": "#f4766e"},
"encoding": {"x": {"datum": 56.44}, "y": {"datum": 68.6}}},
{"mark": {"type": "text", "text": "η=0.61", "fontSize": 19, "fontWeight": "bold", "align": "left", "color": "#f4766e"},
"encoding": {"x": {"datum": 46.1}, "y": {"datum": 64.1}}},
{"mark": {"type": "text", "text": "Systematically", "fontSize": 15.5, "align": "left", "color": "#f4766e"},
"encoding": {"x": {"datum": 40.67}, "y": {"datum": 37.46}}},
{"mark": {"type": "text", "text": "Overpredict", "fontSize": 15.5, "align": "left", "color": "#f4766e"},
"encoding": {"x": {"datum": 40.67}, "y": {"datum": 32.69}}},
{"mark": {"type": "text", "text": "Ỹ = Y", "font": "Liberation Serif", "fontStyle": "italic", "fontSize": 18, "angle": 322, "color": "black"},
"encoding": {"x": {"datum": 34.98}, "y": {"datum": 34.6}}},
{"mark": {"type": "text", "text": "Predicted Outcome Ỹ", "fontSize": 15.5, "angle": 270, "color": "black"},
"encoding": {"x": {"datum": 34.58}, "y": {"datum": 57.6}}},
{"mark": {"type": "text", "text": "Outcome Y", "fontSize": 16.5, "color": "black"},
"encoding": {"x": {"datum": 55.22}, "y": {"datum": 22.98}}},
{"mark": {"type": "text", "text": "(b)", "fontSize": 22, "fontWeight": "bold", "color": "black"},
"encoding": {"x": {"datum": 34.18}, "y": {"datum": 89.39}}},
{"mark": {"type": "rect", "fill": "#f4cccc", "stroke": "#c00000", "strokeWidth": 1.5},
"encoding": {"x": {"datum": 38.44}, "x2": {"datum": 71.21}, "y": {"datum": 92.15}, "y2": {"datum": 83.62}}},
{"mark": {"type": "text", "text": "Biased ML/AI regression", "fontSize": 17, "fontWeight": "bold", "color": "#c00000"},
"encoding": {"x": {"datum": 54.83}, "y": {"datum": 87.83}}},
{"mark": {"type": "text", "text": "⇨", "font": "DejaVu Sans", "fontSize": 26, "color": "#c00000"},
"encoding": {"x": {"datum": 77.6}, "y": {"datum": 87.96}}},
{"mark": {"type": "rect", "fill": "#f4cccc", "stroke": "#c00000", "strokeWidth": 1.5},
"encoding": {"x": {"datum": 82.1}, "x2": {"datum": 99.8}, "y": {"datum": 92.15}, "y2": {"datum": 83.62}}},
{"mark": {"type": "text", "text": "Biased ATE", "fontSize": 17, "fontWeight": "bold", "color": "#c00000"},
"encoding": {"x": {"datum": 90.9}, "y": {"datum": 87.83}}},
{"mark": {"type": "text", "text": "ATE = E[Ỹ(1) − Ỹ(0)]", "font": "DejaVu Serif", "fontStyle": "italic", "fontSize": 17, "color": "black"},
"encoding": {"x": {"datum": 92.2}, "y": {"datum": 64.7}}},
{"mark": {"type": "rule", "color": "black", "strokeWidth": 2.5},
"encoding": {"x": {"datum": 78.13}, "x2": {"datum": 104.24}, "y": {"datum": 42.3}}},
{"mark": {"type": "rule", "color": "black", "strokeWidth": 1.5, "strokeDash": [4, 3]},
"encoding": {"x": {"datum": 91.19}, "y": {"datum": 37.03}, "y2": {"datum": 54.34}}},
{"mark": {"type": "circle", "size": 240, "color": "#00b0f0", "opacity": 1},
"encoding": {"x": {"datum": 82.0}, "y": {"datum": 42.3}}},
{"mark": {"type": "circle", "size": 240, "color": "#ff0000", "opacity": 1},
"encoding": {"x": {"datum": 101.18}, "y": {"datum": 42.3}}},
{"mark": {"type": "text", "text": "Underestimate", "fontSize": 15.5, "color": "black"},
"encoding": {"x": {"datum": 83.33}, "y": {"datum": 50.65}}},
{"mark": {"type": "text", "text": "Overestimate", "fontSize": 15.5, "color": "black"},
"encoding": {"x": {"datum": 98.65}, "y": {"datum": 50.65}}},
{"mark": {"type": "text", "text": "True ATE", "fontSize": 15.5, "color": "black"},
"encoding": {"x": {"datum": 91.05}, "y": {"datum": 35.85}}},
{"mark": {"type": "rule", "color": "#444", "strokeWidth": 2},
"encoding": {"x": {"datum": 30.85}, "y": {"datum": 19.96}, "y2": {"datum": 93.98}}},
{"mark": {"type": "rule", "color": "#444", "strokeWidth": 2},
"encoding": {"x": {"datum": 30.85}, "x2": {"datum": 105.7}, "y": {"datum": 19.96}}}
]
},
{
"width": 562, "height": 291,
"view": {"stroke": null},
"data": {"values": [{}]},
"layer": [
{"data": {"values": [{"v": 40}, {"v": 45}, {"v": 50}, {"v": 55}, {"v": 60}, {"v": 65}, {"v": 70}]},
"mark": {"type": "rule", "color": "#efefef", "strokeWidth": 0.8},
"encoding": {
"x": {"field": "v", "type": "quantitative", "scale": {"domain": [30.57, 106.62], "nice": false, "zero": false}, "axis": {"title": null, "values": [40, 50, 60, 70], "orient": "bottom", "offset": -37.7, "domain": false, "grid": false, "tickSize": 2, "tickColor": "#aaa", "labelFontSize": 6, "labelColor": "#999", "labelPadding": 1}},
"y": {"datum": 27.1, "scale": {"domain": [16.87, 95.86], "nice": false, "zero": false}, "axis": {"title": null, "values": [30, 40, 50, 60, 70, 80], "orient": "left", "offset": -58, "domain": false, "grid": false, "tickSize": 2, "tickColor": "#aaa", "labelFontSize": 6, "labelColor": "#999", "labelPadding": 1}},
"y2": {"datum": 81.2}}},
{"data": {"values": [{"v": 30}, {"v": 35}, {"v": 40}, {"v": 45}, {"v": 50}, {"v": 55}, {"v": 60}, {"v": 65}, {"v": 70}, {"v": 75}, {"v": 80}]},
"mark": {"type": "rule", "color": "#efefef", "strokeWidth": 0.8},
"encoding": {"y": {"field": "v", "type": "quantitative"}, "x": {"datum": 38.42}, "x2": {"datum": 71.8}}},
{"data": {"name": "colsC"},
"mark": {"type": "rule", "color": "#b0b0b0", "strokeWidth": 5, "opacity": 0.6, "strokeDash": [4, 1.5]},
"encoding": {"x": {"field": "x", "type": "quantitative"}, "y": {"field": "lo", "type": "quantitative"}, "y2": {"field": "hi"}}},
{"mark": {"type": "rect", "fill": "white", "fillOpacity": 0, "stroke": "#a6a6a6", "strokeWidth": 1},
"encoding": {"x": {"datum": 38.42}, "x2": {"datum": 71.8}, "y": {"datum": 27.1}, "y2": {"datum": 81.2}}},
{"mark": {"type": "rule", "color": "#1bb4c4", "strokeWidth": 2.2},
"encoding": {"x": {"datum": 40}, "y": {"datum": 39.6}, "x2": {"datum": 70.2}, "y2": {"datum": 70.2}}},
{"mark": {"type": "rule", "color": "black", "strokeWidth": 1.8, "strokeDash": [6, 4]},
"encoding": {"x": {"datum": 38.1}, "y": {"datum": 38.1}, "x2": {"datum": 71.9}, "y2": {"datum": 71.9}}},
{"mark": {"type": "rule", "color": "black", "strokeWidth": 1.2, "strokeDash": [2, 2]},
"encoding": {"x": {"datum": 43.52}, "y": {"datum": 68.7}, "x2": {"datum": 47.5}, "y2": {"datum": 51.3}}},
{"mark": {"type": "point", "shape": "triangle-down", "filled": true, "size": 45, "angle": 335, "color": "black", "opacity": 1},
"encoding": {"x": {"datum": 47.65}, "y": {"datum": 50.8}}},
{"mark": {"type": "text", "text": "Regression slope of Ŷ on Y is", "fontSize": 14.5, "align": "left", "color": "black"},
"encoding": {"x": {"datum": 39.77}, "y": {"datum": 77.76}}},
{"mark": {"type": "text", "text": "Unbiased", "fontSize": 15.5, "fontWeight": "bold", "align": "left", "color": "#1bb4c4"},
"encoding": {"x": {"datum": 39.77}, "y": {"datum": 72.6}}},
{"mark": {"type": "text", "text": "η ≈1", "fontSize": 20, "fontWeight": "bold", "fontStyle": "italic", "align": "left", "color": "#1bb4c4"},
"encoding": {"x": {"datum": 45.4}, "y": {"datum": 64.65}}},
{"mark": {"type": "text", "text": "No Systematic Prediction", "fontSize": 15.5, "align": "left", "color": "#1bb4c4"},
"encoding": {"x": {"datum": 46.77}, "y": {"datum": 37.07}}},
{"mark": {"type": "text", "text": "Bias across Outcome range", "fontSize": 15.5, "align": "left", "color": "#1bb4c4"},
"encoding": {"x": {"datum": 46.77}, "y": {"datum": 31.65}}},
{"mark": {"type": "text", "text": "Ŷ = Y", "font": "Liberation Serif", "fontStyle": "italic", "fontSize": 18, "angle": 322, "color": "black"},
"encoding": {"x": {"datum": 34.36}, "y": {"datum": 33.43}}},
{"mark": {"type": "text", "text": "Predicted Outcome Ŷ", "fontSize": 15.5, "angle": 270, "color": "black"},
"encoding": {"x": {"datum": 34.36}, "y": {"datum": 55.96}}},
{"mark": {"type": "text", "text": "Outcome Y", "fontSize": 16.5, "color": "black"},
"encoding": {"x": {"datum": 55.33}, "y": {"datum": 21.76}}},
{"mark": {"type": "text", "text": "(c)", "fontSize": 22, "fontWeight": "bold", "color": "black"},
"encoding": {"x": {"datum": 33.82}, "y": {"datum": 89.97}}},
{"mark": {"type": "rect", "fill": "#cdeed9", "stroke": "#00b050", "strokeWidth": 1.5},
"encoding": {"x": {"datum": 38.28}, "x2": {"datum": 71.57}, "y": {"datum": 93.15}, "y2": {"datum": 83.92}}},
{"mark": {"type": "text", "text": "Unbiased ML/AI regression", "fontSize": 17, "fontWeight": "bold", "color": "#00b050"},
"encoding": {"x": {"datum": 53.71}, "y": {"datum": 88.53}}},
{"mark": {"type": "text", "text": "⇨", "font": "DejaVu Sans", "fontSize": 26, "color": "#00b050"},
"encoding": {"x": {"datum": 78.07}, "y": {"datum": 88.8}}},
{"mark": {"type": "rect", "fill": "#cdeed9", "stroke": "#00b050", "strokeWidth": 1.5},
"encoding": {"x": {"datum": 82.53}, "x2": {"datum": 100.39}, "y": {"datum": 93.15}, "y2": {"datum": 83.92}}},
{"mark": {"type": "text", "text": "Unbiased ATE", "fontSize": 17, "fontWeight": "bold", "color": "#00b050"},
"encoding": {"x": {"datum": 90.99}, "y": {"datum": 88.53}}},
{"mark": {"type": "text", "text": "ATE = E[Ŷ(1) − Ŷ(0)]", "font": "DejaVu Serif", "fontStyle": "italic", "fontSize": 17, "color": "black"},
"encoding": {"x": {"datum": 92.9}, "y": {"datum": 66.54}}},
{"mark": {"type": "rule", "color": "black", "strokeWidth": 2.5},
"encoding": {"x": {"datum": 78.61}, "x2": {"datum": 105.13}, "y": {"datum": 42.39}}},
{"mark": {"type": "rule", "color": "black", "strokeWidth": 1.5, "strokeDash": [4, 3]},
"encoding": {"x": {"datum": 91.87}, "y": {"datum": 38.59}, "y2": {"datum": 55.42}}},
{"mark": {"type": "circle", "size": 240, "color": "#00b050", "opacity": 1},
"encoding": {"x": {"datum": 91.87}, "y": {"datum": 42.39}}},
{"mark": {"type": "text", "text": "True ATE", "fontSize": 15.5, "color": "black"},
"encoding": {"x": {"datum": 91.87}, "y": {"datum": 35.6}}},
{"mark": {"type": "rule", "color": "#444", "strokeWidth": 2},
"encoding": {"x": {"datum": 30.57}, "y": {"datum": 16.87}, "y2": {"datum": 95.86}}}
]
}
]
}
]
}
